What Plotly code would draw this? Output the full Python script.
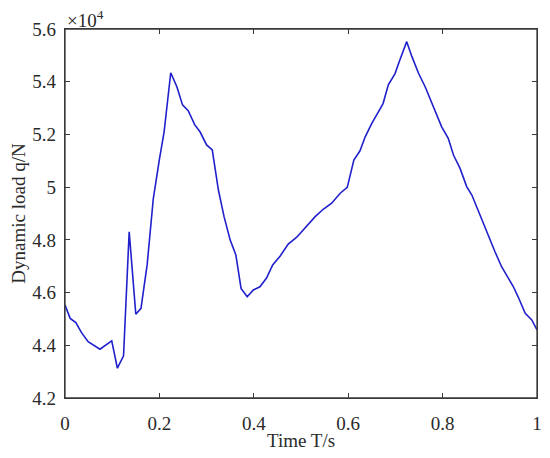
import plotly.graph_objects as go
import numpy as np

# Time (s)
time_s = [0, 0.011, 0.023, 0.035, 0.049, 0.074, 0.099, 0.111, 0.124, 0.136, 0.150, 0.161,
          0.174, 0.187, 0.200, 0.210, 0.224, 0.237, 0.249, 0.261, 0.275, 0.286, 0.300, 0.312,
          0.325, 0.337, 0.350, 0.362, 0.373, 0.386, 0.399, 0.413, 0.427, 0.440, 0.456, 0.473,
          0.491, 0.512, 0.530, 0.547, 0.565, 0.583, 0.598, 0.612, 0.625, 0.636, 0.650, 0.667,
          0.674, 0.685, 0.699, 0.710, 0.724, 0.735, 0.749, 0.763, 0.773, 0.784, 0.798, 0.812,
          0.823, 0.837, 0.851, 0.862, 0.876, 0.886, 0.900, 0.911, 0.925, 0.939, 0.950, 0.960,
          0.975, 0.989, 1.0]

# Dynamic load (x 10^4 N)
load_e4 = [4.553, 4.502, 4.486, 4.448, 4.414, 4.385, 4.417, 4.313, 4.360, 4.831, 4.518, 4.540,
           4.705, 4.955, 5.105, 5.210, 5.434, 5.381, 5.312, 5.290, 5.236, 5.210, 5.160, 5.141,
           4.989, 4.888, 4.799, 4.743, 4.616, 4.584, 4.610, 4.622, 4.655, 4.705, 4.739, 4.784,
           4.810, 4.850, 4.888, 4.916, 4.939, 4.977, 4.999, 5.103, 5.138, 5.191, 5.242, 5.295,
           5.318, 5.388, 5.430, 5.485, 5.552, 5.495, 5.432, 5.381, 5.337, 5.293, 5.229, 5.185,
           5.122, 5.071, 5.002, 4.970, 4.907, 4.869, 4.806, 4.755, 4.698, 4.654, 4.622, 4.584,
           4.521, 4.496, 4.458]

scale = 1e4
load_N = np.array(load_e4) * scale

x_ticks = [0, 0.2, 0.4, 0.6, 0.8, 1]
x_ticklabels = ["0", "0.2", "0.4", "0.6", "0.8", "1"]
y_ticks_e4 = [4.2, 4.4, 4.6, 4.8, 5.0, 5.2, 5.4, 5.6]
y_ticklabels = ["4.2", "4.4", "4.6", "4.8", "5", "5.2", "5.4", "5.6"]

font_family = "Liberation Serif, DejaVu Serif, serif"
axis_color = "#3a3a3a"
text_color = "#2a2a2a"

fig = go.Figure()
fig.add_trace(go.Scatter(x=time_s, y=load_N, mode="lines",
                         line=dict(color="#2020cc", width=1.6), showlegend=False))

fig.update_layout(
    width=542, height=450,
    margin=dict(l=57, r=13, t=21, b=60, autoexpand=False),
    plot_bgcolor="white", paper_bgcolor="white",
    font=dict(family=font_family, size=19, color=text_color),
)
fig.update_xaxes(
    range=[0, 1], tickvals=x_ticks, ticktext=x_ticklabels,
    showgrid=False, zeroline=False,
    showline=True, linecolor=axis_color, linewidth=1.3, mirror="ticks",
    ticks="inside", ticklen=5, tickcolor=axis_color, ticklabelstandoff=8,
    title=dict(text="Time T/s", font=dict(size=19), standoff=0),
)
fig.update_yaxes(
    range=[4.2 * scale, 5.6 * scale],
    tickvals=[v * scale for v in y_ticks_e4], ticktext=y_ticklabels,
    showgrid=False, zeroline=False,
    showline=True, linecolor=axis_color, linewidth=1.3, mirror="ticks",
    ticks="inside", ticklen=5, tickcolor=axis_color, ticklabelstandoff=4,
    title=dict(text="Dynamic load q/N", font=dict(size=19), standoff=2),
)
# box frame around the plotting area
fig.add_shape(type="rect", xref="paper", yref="paper", x0=0, y0=0, x1=1, y1=1,
              line=dict(color=axis_color, width=1.3), layer="above")
fig.add_annotation(text="×10<sup>4</sup>", xref="paper", yref="paper",
                   x=0.0, y=1.0, xanchor="left", yanchor="bottom", yshift=-4,
                   showarrow=False, font=dict(size=19, family=font_family, color=text_color))

fig.write_html("out.html")
